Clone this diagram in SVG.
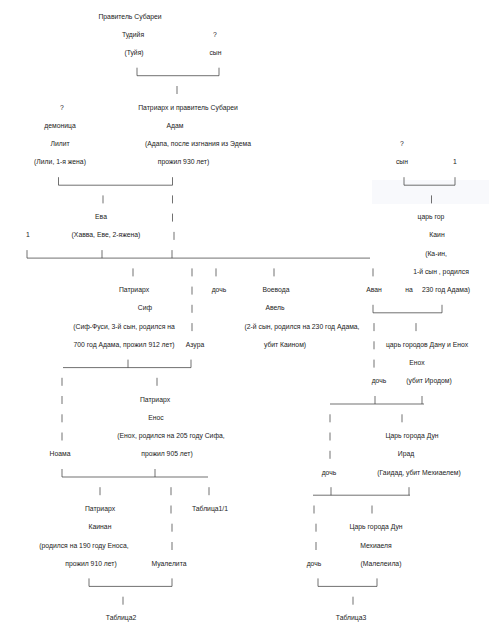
<svg xmlns="http://www.w3.org/2000/svg" width="489" height="629" viewBox="0 0 489 629">
<style>
text{font-family:"Liberation Sans",Arial,sans-serif;font-size:6.8px;fill:#222;text-anchor:middle}
.c line{stroke:#333;stroke-width:0.7}
</style>
<rect width="489" height="629" fill="#fff"/>
<rect x="372" y="180" width="117" height="24" fill="#f8f9fc"/>
<g id="subarea-ruler">
<text x="130" y="18.5">Правитель Субареи</text>
<text x="133" y="36.7">Тудийя</text>
<text x="134" y="55">(Туйя)</text>
</g>
<g id="son-q">
<text x="215" y="36.7">?</text>
<text x="215.5" y="55">сын</text>
</g>
<g id="demon-q"><text x="62" y="109.7">?</text></g>
<g id="adam">
<text x="188" y="109.7">Патриарх и правитель Субареи</text>
<text x="175" y="127.9">Адам</text>
<text x="198" y="146.2">(Адапа, после изгнания из Эдема</text>
<text x="183.5" y="164.4">прожил 930 лет)</text>
</g>
<g id="lilit">
<text x="60" y="127.9">демоница</text>
<text x="60" y="146.2">Лилит</text>
<text x="60" y="164.4">(Лили, 1-я жена)</text>
</g>
<g id="cain-father">
<text x="402" y="146.2">?</text>
<text x="402" y="164.4">сын</text>
</g>
<g id="cain-mother"><text x="455" y="164.4">1</text></g>
<g id="eva">
<text x="101" y="219.1">Ева</text>
<text x="106" y="237.4">(Хавва, Еве, 2-яжена)</text>
</g>
<g id="one-left"><text x="28" y="237.4">1</text></g>
<g id="cain">
<text x="431" y="219.1">царь гор</text>
<text x="437" y="237.4">Каин</text>
<text x="436" y="255.6">(Ка-ин,</text>
<text x="441" y="273.9">1-й сын , родился</text>
<text x="409" y="292.1">на</text>
<text x="446" y="292.1">230 год Адама)</text>
</g>
<g id="set">
<text x="134" y="292.1">Патриарх</text>
<text x="145" y="310.3">Сиф</text>
<text x="124" y="328.6">(Сиф-Фуси, 3-й сын, родился на</text>
<text x="124" y="346.8">700 год Адама, прожил 912 лет)</text>
</g>
<g id="daughter1"><text x="219" y="292.1">дочь</text></g>
<g id="abel">
<text x="276" y="292.1">Воевода</text>
<text x="275" y="310.3">Авель</text>
<text x="302" y="328.6">(2-й сын, родился на 230 год Адама,</text>
<text x="285" y="346.8">убит Каином)</text>
</g>
<g id="avan"><text x="374" y="292.1">Аван</text></g>
<g id="azura"><text x="195" y="346.8">Азура</text></g>
<g id="enoch">
<text x="427" y="346.8">царь городов Дану и Енох</text>
<text x="417" y="365">Енох</text>
<text x="429" y="383.3">(убит Иродом)</text>
</g>
<g id="daughter2"><text x="379" y="383.3">дочь</text></g>
<g id="enos">
<text x="155" y="401.5">Патриарх</text>
<text x="156" y="419.8">Енос</text>
<text x="171" y="438">(Енох, родился на 205 году Сифа,</text>
<text x="167" y="456.3">прожил 905 лет)</text>
</g>
<g id="noama"><text x="60" y="456.3">Ноама</text></g>
<g id="irad">
<text x="412" y="438">Царь города Дун</text>
<text x="406" y="456.3">Ирад</text>
<text x="419" y="474.5">(Гаидад, убит Мехиаелем)</text>
</g>
<g id="daughter3"><text x="329" y="474.5">дочь</text></g>
<g id="kenan">
<text x="100" y="511">Патриарх</text>
<text x="100" y="529.2">Каинан</text>
<text x="84" y="547.5">(родился на 190 году Еноса,</text>
<text x="91" y="565.7">прожил 910 лет)</text>
</g>
<g id="table11"><text x="210" y="511">Таблица1/1</text></g>
<g id="mualelita"><text x="169" y="565.7">Муалелита</text></g>
<g id="mehujael">
<text x="376" y="529.2">Царь города Дун</text>
<text x="376" y="547.5">Мехиаеля</text>
<text x="381" y="565.7">(Малелеила)</text>
</g>
<g id="daughter4"><text x="314" y="565.7">дочь</text></g>
<g id="table2"><text x="121" y="620.4">Таблица2</text></g>
<g id="table3"><text x="351" y="620.4">Таблица3</text></g>
<g id="connectors" class="c">
<line x1="137" y1="67.7" x2="137" y2="75.7"/><line x1="219" y1="67.7" x2="219" y2="75.7"/><line x1="137" y1="75.7" x2="219" y2="75.7"/>
<line x1="177" y1="86" x2="177" y2="94"/>
<line x1="58.5" y1="177.2" x2="58.5" y2="185.2"/><line x1="172.5" y1="177.2" x2="172.5" y2="185.2"/><line x1="58.5" y1="185.2" x2="172.5" y2="185.2"/>
<line x1="404" y1="177.2" x2="404" y2="185.2"/><line x1="455" y1="177.2" x2="455" y2="185.2"/><line x1="404" y1="185.2" x2="455" y2="185.2"/>
<line x1="103" y1="195.4" x2="103" y2="203.4"/><line x1="172.5" y1="195.4" x2="172.5" y2="203.4"/><line x1="431.5" y1="195.4" x2="431.5" y2="203.4"/>
<line x1="172.5" y1="213.6" x2="172.5" y2="221.6"/>
<line x1="174" y1="231.9" x2="174" y2="239.9"/>
<line x1="27" y1="250.1" x2="27" y2="258.1"/><line x1="102" y1="250.1" x2="102" y2="258.1"/><line x1="172" y1="250.1" x2="172" y2="258.1"/><line x1="27" y1="258.1" x2="370" y2="258.1"/>
<line x1="133" y1="268.4" x2="133" y2="276.4"/><line x1="192" y1="268.4" x2="192" y2="276.4"/><line x1="216" y1="268.4" x2="216" y2="276.4"/><line x1="274" y1="268.4" x2="274" y2="276.4"/><line x1="373" y1="268.4" x2="373" y2="276.4"/>
<line x1="192" y1="286.6" x2="192" y2="294.6"/>
<line x1="192" y1="304.8" x2="192" y2="312.8"/>
<line x1="373" y1="304.8" x2="373" y2="312.8"/><line x1="442" y1="304.8" x2="442" y2="312.8"/><line x1="373" y1="312.8" x2="442" y2="312.8"/>
<line x1="192" y1="323.1" x2="192" y2="331.1"/><line x1="374" y1="323.1" x2="374" y2="331.1"/><line x1="416" y1="323.1" x2="416" y2="331.1"/>
<line x1="374" y1="341.3" x2="374" y2="349.3"/>
<line x1="63" y1="367.6" x2="191" y2="367.6"/><line x1="128" y1="359.6" x2="128" y2="367.6"/><line x1="191" y1="359.6" x2="191" y2="367.6"/>
<line x1="374" y1="359.6" x2="374" y2="367.6"/>
<line x1="62" y1="377.8" x2="62" y2="385.8"/><line x1="157" y1="377.8" x2="157" y2="385.8"/>
<line x1="62" y1="396" x2="62" y2="404"/>
<line x1="330" y1="404" x2="424" y2="404"/><line x1="375" y1="396" x2="375" y2="404"/><line x1="422" y1="396" x2="422" y2="404"/>
<line x1="62" y1="414.3" x2="62" y2="422.3"/><line x1="330" y1="414.3" x2="330" y2="422.3"/><line x1="402" y1="414.3" x2="402" y2="422.3"/>
<line x1="62" y1="432.5" x2="62" y2="440.5"/><line x1="330" y1="432.5" x2="330" y2="440.5"/>
<line x1="330" y1="450.8" x2="330" y2="458.8"/>
<line x1="62" y1="469" x2="62" y2="477"/><line x1="155" y1="469" x2="155" y2="477"/><line x1="62" y1="477" x2="208" y2="477"/>
<line x1="100" y1="487.2" x2="100" y2="495.2"/><line x1="171" y1="487.2" x2="171" y2="495.2"/><line x1="209" y1="487.2" x2="209" y2="495.2"/>
<line x1="313" y1="495.2" x2="410" y2="495.2"/><line x1="331" y1="487.2" x2="331" y2="495.2"/><line x1="409" y1="487.2" x2="409" y2="495.2"/>
<line x1="171" y1="505.5" x2="171" y2="513.5"/><line x1="314" y1="505.5" x2="314" y2="513.5"/><line x1="372" y1="505.5" x2="372" y2="513.5"/>
<line x1="172" y1="523.7" x2="172" y2="531.7"/><line x1="316" y1="523.7" x2="316" y2="531.7"/>
<line x1="172" y1="542" x2="172" y2="550"/><line x1="316" y1="542" x2="316" y2="550"/>
<line x1="89" y1="578.4" x2="89" y2="586.4"/><line x1="172" y1="578.4" x2="172" y2="586.4"/><line x1="89" y1="586.4" x2="172" y2="586.4"/>
<line x1="318" y1="578.4" x2="318" y2="586.4"/><line x1="377" y1="578.4" x2="377" y2="586.4"/><line x1="318" y1="586.4" x2="377" y2="586.4"/>
<line x1="123" y1="596.7" x2="123" y2="604.7"/><line x1="353" y1="596.7" x2="353" y2="604.7"/>
</g>
</svg>
